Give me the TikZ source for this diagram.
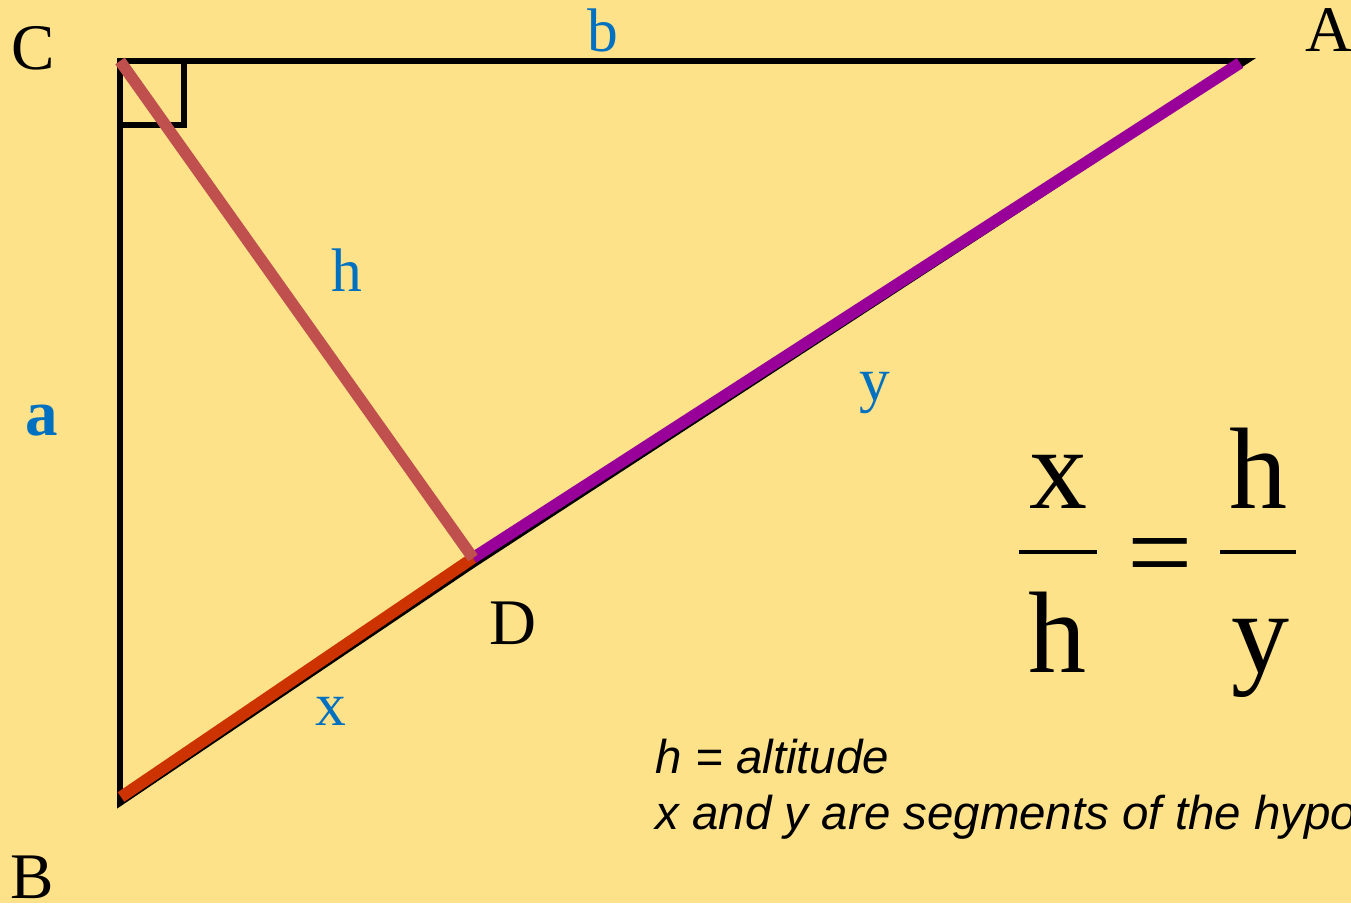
\documentclass[tikz,border=0pt]{standalone}
\usepackage{fontspec}
\setmainfont{Liberation Serif}
\newfontfamily\notesans{Liberation Sans}
\usepackage{xcolor}
\definecolor{cBg}{HTML}{FDE28A}
\definecolor{cBlue}{HTML}{0070C0}
\definecolor{cAlt}{HTML}{C0504D}
\definecolor{cSegX}{HTML}{CC3300}
\definecolor{cSegY}{HTML}{990099}
\usepackage{tikz}
\usetikzlibrary{positioning}
\tikzset{
  side-line/.style={draw=black,line width=1.7pt},
  seg-line/.style={line width=3.3pt},
  frac-bar/.style={draw=black,line width=1.4pt},
  node-vertex/.style={inner sep=0pt,anchor=base,
    font=\fontsize{18.5}{20}\selectfont},
  node-side/.style={inner sep=0pt,anchor=base,text=cBlue,
    font=\fontsize{17.5}{20}\selectfont},
  node-big/.style={inner sep=0pt,anchor=base,
    font=\fontsize{33}{36}\selectfont},
  node-note/.style={inner sep=0pt,anchor=base west,
    font=\notesans\itshape\fontsize{13.5}{15}\selectfont},
}

\begin{document}
\begin{tikzpicture}
  \path[use as bounding box,fill=cBg] (0,0) rectangle (13.51,9.03);
  \clip (0,0) rectangle (13.51,9.03);
  % vertices of the triangle
  \coordinate (C)  at (1.20,8.42);
  \coordinate (A)  at (12.46,8.42);
  \coordinate (B)  at (1.20,1.00);
  \coordinate (Dk) at (4.73,3.38);
  \coordinate (D)  at (4.73,3.45);
  \coordinate (Bc) at (1.21,1.06);
  \coordinate (Ac) at (12.40,8.40);
  \draw[side-line] (C) -- (A) -- (Dk) -- (B) -- cycle;
  \draw[side-line] (C) rectangle ++(0.64,-0.64);
  \draw[seg-line,cSegX] (Bc) -- (D);
  \draw[seg-line,cSegY] (D) -- (Ac);
  \draw[seg-line,cAlt] (C) -- (D);
  % vertex and side labels
  \node[node-vertex] (lC) at (0.33,8.33) {C};
  \node[node-vertex] (lA) at (13.29,8.51) {A};
  \node[node-vertex] (lB) at (0.32,0.05) {B};
  \node[node-vertex] (lD) at (5.13,2.59) {D};
  \node[node-side] (lb) at (6.03,8.51) {b};
  \node[node-side,font=\bfseries\fontsize{18.5}{20}\selectfont] (la) at (0.42,4.67) {a};
  \node[node-side] (lh) at (3.47,6.11) {h};
  \node[node-side] (ly) at (8.75,5.02) {y};
  \node[node-side] (lx) at (3.31,1.78) {x};
  % ratio
  \node[node-big] (fx1) at (10.58,3.95) {x};
  \node[node-big] (fh1) at (10.57,2.31) {h};
  \node[node-big] (feq) at (11.60,3.12) {=};
  \node[node-big] (fh2) at (12.58,3.95) {h};
  \node[node-big] (fy2) at (12.60,2.31) {y};
  \draw[frac-bar] (10.19,3.51) -- (10.97,3.51);
  \draw[frac-bar] (12.20,3.51) -- (12.96,3.51);
  % notes
  \node[node-note] (n1) at (6.55,1.30) {h = altitude};
  \node[node-note] (n2) at (6.55,0.74) {x and y are segments of the hypotenuse};
\end{tikzpicture}
\end{document}
